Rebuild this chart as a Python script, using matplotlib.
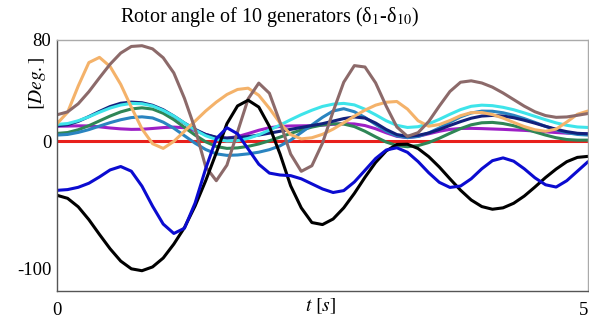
import numpy as np
import matplotlib
matplotlib.use("Agg")
import matplotlib.pyplot as plt

plt.rcParams['font.family'] = ['Liberation Serif', 'DejaVu Serif']
plt.rcParams['mathtext.fontset'] = 'stix'

t = np.round(np.arange(0, 5.01, 0.1), 1)

red = [0.0] * len(t)
brown = [21, 23.3, 29.7, 39.2, 50.2, 60.9, 69.7, 74.9, 75.5, 73, 66, 54, 34, 10, -20, -31, -18.7, 7.5,
         33.6, 46, 38, 15.1, -10, -23.6, -19.2, -1.3, 23.6, 46.7, 59.8, 58.7, 46.2, 27.8, 11.4, 4, 6.9,
         15.7, 27.9, 39.4, 46.7, 47.8, 46.1, 42.8, 38.2, 33, 27.8, 23.4, 20.4, 19, 19.3, 20.6, 22]
orange = [14, 23, 43.7, 62.2, 66.3, 59.1, 45, 27, 9.9, -1.8, -5.5, 0, 8, 16, 24, 31, 37, 41, 42, 36.4,
          26.1, 14.5, 5.4, 2, 2.9, 5.6, 9.7, 14.7, 19.9, 24.7, 28.6, 30.9, 31.5, 25.5, 16.3, 12, 13.3,
          16.5, 20.3, 22.7, 22.8, 21.2, 18.4, 15, 11.7, 9.2, 8, 9.7, 15.3, 21.4, 24]
cyan = [13.4, 14.1, 16.3, 19.4, 23, 26.3, 28.7, 30, 29.7, 28, 24.5, 20, 14.5, 9, 4.5, 1.5, 0.3, 0.6,
        2.4, 5.2, 8.9, 12.9, 17.1, 21.1, 24.6, 27.6, 29.4, 30, 28.8, 25.4, 21, 16.3, 12.7, 11, 11.6,
        13.9, 17.4, 21.4, 25.1, 27.7, 28.6, 28.2, 26.9, 25, 22.5, 19.8, 17.1, 14.6, 12.7, 11.4, 11]
navy = [12.3, 13.2, 15.8, 19.6, 23.7, 27.5, 30.1, 31, 30.5, 28.5, 25, 20, 14.5, 9.5, 5.5, 3.3, 2.6, 3,
        3.8, 5, 6.5, 8, 9.5, 11, 12.5, 14, 16, 18, 19.3, 18.4, 14.5, 9.4, 5.4, 4, 4.8, 6.6, 9.4, 12.6,
        15.6, 18.3, 20, 20.5, 20, 18.7, 16.7, 14.4, 11.9, 9.6, 7.7, 6.4, 6]
steel = [5, 5.5, 7.1, 9.3, 12.1, 14.8, 17.1, 18.8, 19.4, 18.5, 15.2, 10.4, 4.5, -1.4, -6.4, -9.8, -11,
         -10.7, -9.8, -8.5, -6.5, -3.5, 1, 7, 13, 19, 24, 25.8, 23.4, 18.9, 13.4, 8.1, 4.4, 3, 3.9, 6.7,
         10.6, 15.1, 19.4, 22.4, 23.9, 23.8, 22.6, 20.6, 18, 15, 11.9, 9.1, 6.9, 5.5, 5]
green = [6.3, 7, 9.2, 12.4, 16.2, 20, 23.3, 25.6, 26.5, 25.5, 22.2, 17.2, 11.1, 5, -0.3, -4, -5.5, -5.1,
         -3.9, -2, 0.5, 3.4, 6.3, 9, 11.3, 13, 13.9, 13.7, 11.7, 8, 3.6, -0.5, -3.3, -4.2, -3.3, -0.9,
         2.5, 6.4, 10.1, 13.1, 14.7, 15, 14.1, 12.4, 10.1, 7.5, 5, 2.9, 1.5, 1, 1]
purple = [12, 12.1, 12.3, 12.2, 11.5, 10.6, 9.9, 9.5, 9.6, 10.2, 10.9, 11.3, 10.8, 8.5, 5.5, 3, 2.5, 3.8,
          6.2, 8.8, 10.8, 11.8, 12.2, 12.3, 12.4, 12.8, 13.5, 14, 13.8, 12.5, 10, 6.8, 4, 3, 4, 6, 8, 9.5,
          10.2, 10.3, 10.1, 9.8, 9.5, 9.1, 8.7, 8.2, 7.6, 7, 6.5, 6.2, 6]
blue = [-38.6, -38, -36.2, -33, -28, -22.5, -19.8, -23.5, -35.3, -51.1, -65.2, -72.6, -68.5, -48.7, -21.5,
        2.2, 10.8, 6, -6, -18, -25, -26.5, -27, -29.5, -33.5, -37.5, -40.3, -38.8, -32, -22.8, -13.5,
        -6.8, -5, -8.6, -15.9, -24.7, -32.3, -36.3, -35.2, -29.5, -21.6, -15.2, -13, -15.6, -21.6, -28.7,
        -34.2, -36, -31, -23.5, -16]
black = [-42.5, -44.9, -51.6, -61.7, -73.4, -84.7, -94.4, -100.5, -102, -99, -92, -81, -68, -51, -31, -9,
         14, 28, 32.5, 27.1, 11.8, -9.9, -35, -52.4, -64, -65.6, -61.2, -52.4, -41, -28.3, -16.6, -7.5,
         -2.4, -2.2, -5.6, -12, -20.2, -29.5, -38.5, -46.2, -51.4, -53.5, -52.4, -48.8, -43.1, -36, -28.5,
         -21.8, -16, -12.6, -11.8]

series = [
    (red, '#e8201c'),
    (purple, '#9d1fc6'),
    (green, '#2f8656'),
    (steel, '#2a84c0'),
    (navy, '#12207c'),
    (cyan, '#3ee4ea'),
    (orange, '#f4b26a'),
    (brown, '#8c6a6a'),
    (black, '#000000'),
    (blue, '#0b0bd0'),
]

xticks = [0, 5]
yticks = [-100, 0, 80]

fig = plt.figure(figsize=(5.89, 3.22), dpi=100)
ax = fig.add_axes([57 / 589, 1 - 291 / 322, 531 / 589, 251 / 322])
for vals, col in series:
    ax.plot(t, vals, color=col, lw=2.2, solid_capstyle='round', solid_joinstyle='round')

ax.set_xlim(0, 5)
ax.set_ylim(-118, 80)
ax.set_xticks(xticks)
ax.set_yticks(yticks)
ax.set_xticklabels([str(v) for v in xticks])
ax.set_yticklabels([str(v) for v in yticks])
ax.tick_params(length=0, labelsize=13.5, pad=4)
ax.tick_params(axis='x', pad=8)
ax.get_xticklabels()[-1].set_horizontalalignment('right')
for s in ['left', 'bottom']:
    ax.spines[s].set_color('#555555')
for s in ['top', 'right']:
    ax.spines[s].set_color('#aaaaaa')
for s in ax.spines.values():
    s.set_linewidth(1.0)

fig.text(269 / 589, 1 - 17 / 322, 'Rotor angle of 10 generators (δ$_1$-δ$_{10}$)',
         ha='center', va='center', fontsize=14.5)
fig.text(37 / 589, 1 - 83 / 322, r'$[Deg.]$', rotation=90, ha='center', va='center', fontsize=14)
fig.text(320 / 589, 1 - 306 / 322, r'$t\ [s]$', ha='center', va='center', fontsize=14)

fig.savefig('out.png', dpi=100)
